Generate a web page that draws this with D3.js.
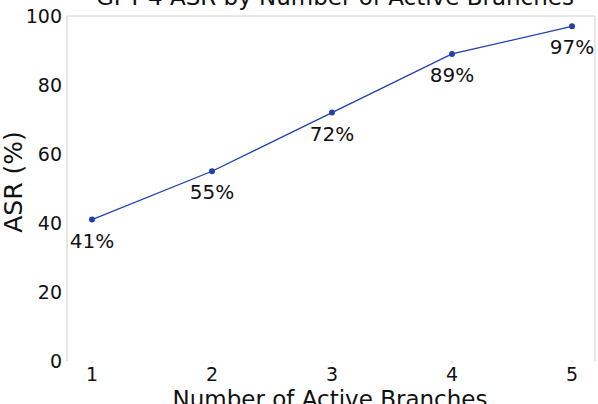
<!DOCTYPE html>
<html>
<head>
<meta charset="utf-8">
<script src="https://cdn.jsdelivr.net/npm/d3@7"></script>
<style>
  body { margin: 0; background: #fff; }
  text { font-family: "DejaVu Sans", sans-serif; fill: #111; }
</style>
</head>
<body>
<div id="chart"></div>
<script>
// Data
const branches = [1, 2, 3, 4, 5];
const asr = [41, 55, 72, 89, 97];
const yTicks = [0, 20, 40, 60, 80, 100];

const width = 598;
const height = 404;

const svg = d3.select("#chart")
    .append("svg")
    .attr("width", width)
    .attr("height", height);

// Scales
const x = d3.scaleLinear().domain([1, 5]).range([92, 572]);
const y = d3.scaleLinear().domain([0, 100]).range([361, 16]);
const left = 67, right = 595;

// Frame (left, top, right)
svg.append("path")
    .attr("d", `M${left},${y(0)}V${y(100)}H${right}V${y(0)}`)
    .attr("fill", "none")
    .attr("stroke", "#d0d0d0")
    .attr("stroke-width", 1);

// Y axis labels
svg.selectAll(".ytick")
    .data(yTicks)
    .enter()
    .append("text")
    .attr("x", 62)
    .attr("y", d => y(d) + 7)
    .attr("text-anchor", "end")
    .attr("font-size", "19px")
    .text(d => d);

// X axis ticks and labels
svg.selectAll(".xtick")
    .data(branches)
    .enter()
    .append("line")
    .attr("x1", d => x(d))
    .attr("x2", d => x(d))
    .attr("y1", y(0))
    .attr("y2", y(0) + 2)
    .attr("stroke", "#ccc");

svg.selectAll(".xlabel")
    .data(branches)
    .enter()
    .append("text")
    .attr("x", d => x(d))
    .attr("y", 381)
    .attr("text-anchor", "middle")
    .attr("font-size", "19px")
    .text(d => d);

// Line
const line = d3.line()
    .x((d, i) => x(branches[i]))
    .y(d => y(d));

svg.append("path")
    .datum(asr)
    .attr("d", line)
    .attr("fill", "none")
    .attr("stroke", "#2040b0")
    .attr("stroke-width", 1.3);

svg.selectAll(".pt")
    .data(asr)
    .enter()
    .append("circle")
    .attr("cx", (d, i) => x(branches[i]))
    .attr("cy", d => y(d))
    .attr("r", 3)
    .attr("fill", "#2040b0");

// Value labels
svg.selectAll(".val")
    .data(asr)
    .enter()
    .append("text")
    .attr("x", (d, i) => x(branches[i]))
    .attr("y", d => y(d) + 28)
    .attr("text-anchor", "middle")
    .attr("font-size", "20px")
    .text(d => d + "%");

// Titles
svg.append("text")
    .attr("x", 335)
    .attr("y", 5)
    .attr("text-anchor", "middle")
    .attr("font-size", "23px")
    .text("GPT-4 ASR by Number of Active Branches");

svg.append("text")
    .attr("x", 330)
    .attr("y", 407)
    .attr("text-anchor", "middle")
    .attr("font-size", "23px")
    .text("Number of Active Branches");

svg.append("text")
    .attr("transform", `translate(13,182) rotate(-90)`)
    .attr("dy", "0.35em")
    .attr("text-anchor", "middle")
    .attr("font-size", "25px")
    .text("ASR (%)");
</script>
</body>
</html>
